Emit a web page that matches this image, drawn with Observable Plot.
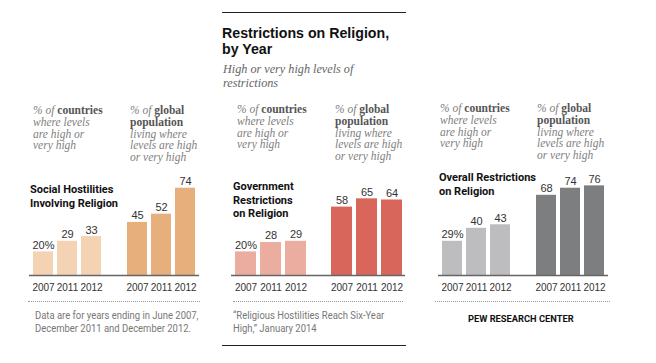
<!DOCTYPE html>
<html><head><meta charset="utf-8">
<script src="https://cdn.jsdelivr.net/npm/d3@7"></script>
<script src="https://cdn.jsdelivr.net/npm/@observablehq/plot@0.6"></script>
<style>
body{margin:0;background:#fff;}
#root{position:relative;width:656px;height:363px;overflow:hidden;background:#fff;font-family:Roboto,"Liberation Sans",sans-serif;}
.abs{position:absolute;white-space:nowrap;}
.title{font-family:"Liberation Sans",Arial,sans-serif;font-weight:700;font-size:14.2px;line-height:16px;color:#111;}
.sub{font-family:"Liberation Serif",serif;font-style:italic;font-size:12.2px;line-height:14px;color:#666;}
.note{font-family:"Liberation Serif",serif;font-style:italic;font-size:11.5px;line-height:11.8px;color:#808080;}
.note b{font-family:"Liberation Serif",serif;font-style:normal;font-weight:700;color:#555;}
.head{font-weight:700;font-size:11px;line-height:13.5px;color:#111;}
.foot{font-size:10.5px;line-height:13px;color:#777;transform:scaleX(0.9);transform-origin:0 0;}
.pew{font-weight:700;font-size:9.3px;line-height:12px;color:#111;}
.dots{border-top:1px dotted #999;height:0;}
.rule{border-top:1px solid #222;height:0;}
.panel{position:absolute;}
</style></head>
<body><div id="root"></div>
<script>
// ---- data ----
const years = ["2007", "2011", "2012"];
const groups = ["countries", "population"];
const socialCountries = [20, 29, 33];
const socialPopulation = [45, 52, 74];
const govCountries = [20, 28, 29];
const govPopulation = [58, 65, 64];
const overallCountries = [29, 40, 43];
const overallPopulation = [68, 74, 76];
const panelHeads = [
  ["Social Hostilities", "Involving Religion"],
  ["Government", "Restrictions", "on Religion"],
  ["Overall Restrictions", "on Religion"]
];
const titleLines = ["Restrictions on Religion,", "by Year"];
const subtitleLines = ["High or very high levels of", "restrictions"];
const noteCountries = ["<i>% of </i><b>countries</b>", "where levels", "are high or", "very high"];
const notePopulation = ["<i>% of </i><b>global</b>", "<b>population</b>", "living where", "levels are high", "or very high"];
const footData = ["Data are for years ending in June 2007,", "December 2011 and December 2012."];
const footSource = ["\u201cReligious Hostilities Reach Six-Year", "High,\u201d January 2014"];
const footPew = "PEW RESEARCH CENTER";

// ---- layout config ----
const root = document.getElementById("root");
function div(cls, left, top, html, extra) {
  const d = document.createElement("div");
  d.className = "abs " + cls;
  d.style.left = left + "px";
  d.style.top = top + "px";
  if (extra) Object.assign(d.style, extra);
  d.innerHTML = html;
  root.appendChild(d);
  return d;
}

const panels = [
  {c: socialCountries, p: socialPopulation, colors: ["#F4D2B4", "#E6AF7C"], left: 28.75, width: 170,
   head: panelHeads[0], headX: 30, headTop: 183, noteX: [33, 130], noteTop: 105, dots: [28, 200]},
  {c: govCountries, p: govPopulation, colors: ["#EAADA0", "#D9665A"], left: 230.75, width: 173,
   head: panelHeads[1], headX: 233, headTop: 180, noteX: [237, 335], noteTop: 104, dots: [233, 403]},
  {c: overallCountries, p: overallPopulation, colors: ["#BDBDBF", "#7D7E80"], left: 437.75, width: 170,
   head: panelHeads[2], headX: 439, headTop: 171, noteX: [440, 537], noteTop: 103, dots: [435, 610]}
];

function panelPlot(cfg) {
  const data = [];
  years.forEach((y, i) => data.push({group: "countries", year: y, value: cfg.c[i], label: i === 0 ? cfg.c[i] + "%" : String(cfg.c[i])}));
  years.forEach((y, i) => data.push({group: "population", year: y, value: cfg.p[i], label: String(cfg.p[i])}));
  return Plot.plot({
    width: cfg.width, height: 140,
    marginTop: 0, marginBottom: 25, marginLeft: 0, marginRight: 0,
    style: {background: "transparent", overflow: "visible", fontFamily: "'Liberation Sans', Arial, sans-serif", fontSize: "10px", color: "#333"},
    fx: {domain: groups, axis: null, paddingInner: 0.2105, paddingOuter: 0, label: null},
    x: {domain: years, paddingInner: 0.18, paddingOuter: 0.09, label: null, tickSize: 0, tickPadding: 8},
    y: {domain: [0, 97.5], axis: null},
    color: {domain: groups, range: cfg.colors},
    marks: [
      Plot.barY(data, {fx: "group", x: "year", y: "value", fill: "group"}),
      Plot.text(data, {fx: "group", x: "year", y: "value", text: "label", lineAnchor: "bottom", dy: -3, fill: "#333", fontSize: 11}),
      Plot.ruleY([{group: "countries"}], {fx: "group", y: 0, stroke: "#666", strokeWidth: 1.5, insetLeft: -1, insetRight: -10}),
      Plot.ruleY([{group: "population"}], {fx: "group", y: 0, stroke: "#666", strokeWidth: 1.5, insetLeft: -10, insetRight: -1})
    ]
  });
}

panels.forEach(cfg => {
  const wrap = document.createElement("div");
  wrap.className = "panel";
  wrap.style.left = cfg.left + "px";
  wrap.style.top = "160px";
  wrap.appendChild(panelPlot(cfg));
  root.appendChild(wrap);
  div("head", cfg.headX, cfg.headTop, cfg.head.join("<br>"));
  div("note", cfg.noteX[0], cfg.noteTop, noteCountries.map(s => s.startsWith("<") ? s : "<i>" + s + "</i>").join("<br>"));
  div("note", cfg.noteX[1], cfg.noteTop, notePopulation.map(s => s.startsWith("<") ? s : "<i>" + s + "</i>").join("<br>"));
  div("dots", cfg.dots[0], 301, "", {width: (cfg.dots[1] - cfg.dots[0]) + "px"});
});

// middle header
div("rule", 222, 12, "", {width: "184px"});
div("title", 222, 24.5, titleLines[0]);
div("title", 222, 40.5, titleLines[1]);
div("sub", 223, 62, subtitleLines.join("<br>"));
div("rule", 222, 345, "", {width: "184px"});

// footers
div("foot", 35, 309, footData.join("<br>"));
div("foot", 233, 309, footSource.join("<br>"));
div("pew", 468, 313, footPew);
</script></body></html>
